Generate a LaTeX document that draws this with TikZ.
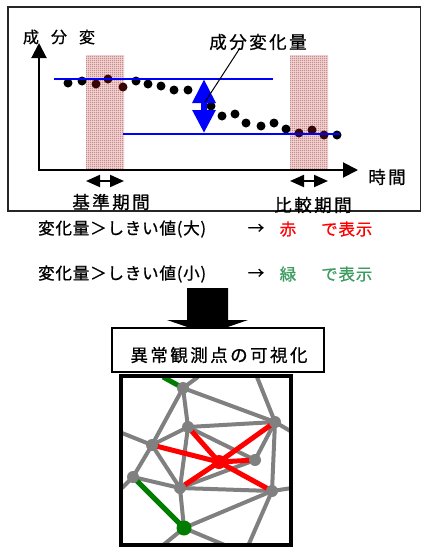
\documentclass[tikz,border=0pt]{standalone}
\usepackage{fontspec}
\setmainfont{Noto Sans CJK JP}[FakeBold=0.8]
\newfontfamily\jpA[LetterSpace=14,FakeBold=0.8]{Noto Sans CJK JP}
\newfontfamily\jpB[LetterSpace=5,FakeBold=0.8]{Noto Sans CJK JP}
\usetikzlibrary{arrows.meta,patterns.meta}
\definecolor{hatchfill}{RGB}{240,214,214}
\definecolor{hatchline}{RGB}{185,98,98}
\definecolor{txtgreen}{RGB}{60,155,95}
\definecolor{netgreen}{RGB}{0,125,0}
\definecolor{netgray}{RGB}{128,128,128}
\definecolor{hdot}{RGB}{55,5,5}
\tikzdeclarepattern{name=finegrid, type=uncolored,
  bounding box={(0pt,0pt) and (2pt,2pt)}, tile size={(2pt,2pt)},
  code={\draw[line width=0.5pt] (0pt,0.25pt) -- (2pt,0.25pt) (0.25pt,0pt) -- (0.25pt,2pt);}}
\begin{document}
\begin{tikzpicture}[x=1pt,y=-1pt,
  lbl/.style={inner sep=0pt, font=\jpA\fontsize{17.5}{20}\selectfont},
  ax/.style={inner sep=0pt, font=\fontsize{16}{18}\selectfont},
  txt/.style={inner sep=0pt, font=\jpB\fontsize{16.5}{19}\selectfont},
  dot/.style={circle, fill=black, inner sep=0pt, minimum size=9pt},
  hatch/.style={pattern=finegrid, pattern color=hatchline},
  period/.style={line width=2pt, {Triangle[length=14pt,width=12pt]}-{Triangle[length=14pt,width=12pt]}},
  gedge/.style={netgray, line width=4pt},
  redge/.style={red, line width=5pt},
  gredge/.style={netgreen, line width=5pt},
  gnode/.style={circle, fill=netgray, inner sep=0pt, minimum size=12pt},
]
\useasboundingbox (0,0) rectangle (422,547);
% outer frame
\draw[line width=1.5pt, black!85] (8,7) rectangle (420.5,211);
% hatched periods
\fill[hatchfill] (86,55) rectangle (124,170);
\fill[hatchfill] (290,55) rectangle (328,170);
\fill[hatch] (86,55) rectangle (124,170);
\fill[hatch] (290,55) rectangle (328,170);
% data dots
\foreach \x/\y [count=\i] in {68/83,82/81,136/81,148/84,161/86,174/90,188/90,211/106,222/116,235/114,246/123,261/126,274/123,286/129,337/135}
  \node[dot] (d\i) at (\x,\y) {};
\foreach \x/\y [count=\i] in {96/84,108/79,123/87,299/133,312/130,324/135}
  \node[dot, fill=hdot] (h\i) at (\x,\y) {};
% axes
\coordinate (O) at (39,170);
\coordinate (Ytip) at (39,43);
\coordinate (Xtip) at (358,170);
\draw[line width=2pt, -{Triangle[length=15pt,width=15pt]}] ([yshift=1pt]O) -- (Ytip);
\draw[line width=2pt, -{Triangle[length=15pt,width=15pt]}] ([xshift=-1pt]O) -- (Xtip);
% blue level lines
\coordinate (u1) at (54,78.5);
\coordinate (u2) at (273,78.5);
\coordinate (l1) at (123,133.7);
\coordinate (l2) at (340,133.7);
\draw[blue, line width=2pt] (u1) -- (u2);
\draw[blue, line width=2pt] (l1) -- (l2);
% blue change arrow
\coordinate (bt) at (204,79);
\coordinate (bb) at (204,133);
\draw[blue, line width=6pt, {Triangle[length=24pt,width=22pt]}-{Triangle[length=23pt,width=22pt]}] (bt) -- (bb);
% labels
\node[ax] (ya1) at (31,37) {成};
\node[ax] (ya2) at (59,37) {分};
\node[ax] (ya3) at (87,37) {変};
\node[lbl] (chg) at (258,42) {成分変化量};
\node[lbl] (time) at (387,177) {時間};
\coordinate (lead) at (205,102);
\draw[line width=1pt] (240,48) -- (lead);
% period arrows
\coordinate (p1a) at (86,181);
\coordinate (p1b) at (124,181);
\coordinate (p2a) at (290,181);
\coordinate (p2b) at (328,181);
\draw[period] (p1a) -- (p1b);
\draw[period] (p2a) -- (p2b);
\node[lbl] (base) at (111,202) {基準期間};
\node[lbl] (cmp) at (313,205) {比較期間};
% threshold lines
\node[txt, anchor=west] (t1) at (38,229) {変化量＞しきい値(大)};
\node[txt] (a1) at (256,229) {→};
\node[txt, red] (c1) at (288,229) {赤};
\node[txt, red, anchor=west] (s1) at (321,229) {で表示};
\node[txt, anchor=west] (t2) at (38,274) {変化量＞しきい値(小)};
\node[txt] (a2) at (256,274) {→};
\node[txt, txtgreen] (c2) at (288,274) {緑};
\node[txt, txtgreen, anchor=west] (s2) at (321,274) {で表示};
% big down arrow
\fill (187,288) -- (228,288) -- (228,320) -- (248,320) -- (207.5,334) -- (167,320) -- (187,320) -- cycle;
% title box
\node[draw, line width=1.2pt, fill=white, minimum width=212pt, minimum height=44pt, inner sep=0pt] (box) at (218,350) {};
\node[lbl] (boxt) at (219,355) {異常観測点の可視化};
% network
\coordinate (A) at (183,388);
\coordinate (B) at (188,427);
\coordinate (C) at (152,445);
\coordinate (D) at (275,422);
\coordinate (E) at (219,462);
\coordinate (F) at (255,460);
\coordinate (G) at (133,477);
\coordinate (H) at (180,488);
\coordinate (I) at (272,491);
\coordinate (J) at (184,528);
\coordinate (sA1) at (163,377);
\coordinate (sA2) at (198,377);
\coordinate (sC) at (122,433);
\coordinate (sG) at (122,488);
\coordinate (sD1) at (257,377);
\coordinate (sD2) at (292,432);
\coordinate (sI1) at (292,488);
\coordinate (sI2) at (248,546);
\coordinate (sJ1) at (162,546);
\coordinate (sJ2) at (227,546);
\begin{scope}
\clip (121,376) rectangle (291,545);
\foreach \p/\q in {A/B,A/C,A/D,A/sA2,B/C,B/D,B/H,B/F,C/sC,C/G,C/H,D/sD1,D/sD2,D/F,D/I,G/sG,G/H,H/J,H/I,H/F,I/sI1,I/sI2,J/I,J/sJ1,J/sJ2}
  \draw[gedge] (\p) -- (\q);
\foreach \q in {C,B,D,I,H,F}
  \draw[redge] (E) -- (\q);
\draw[gredge] (A) -- (sA1);
\draw[gredge] (G) -- (J);
\foreach \p in {A,B,C,D,F,G,H,I}
  \node[gnode] (n\p) at (\p) {};
\node[circle, fill=red, inner sep=0pt, minimum size=14pt] (nE) at (E) {};
\node[circle, fill=netgreen, inner sep=0pt, minimum size=15pt] (nJ) at (J) {};
\end{scope}
\draw[line width=4.5pt] (121,376) rectangle (291,545);
\end{tikzpicture}
\end{document}
